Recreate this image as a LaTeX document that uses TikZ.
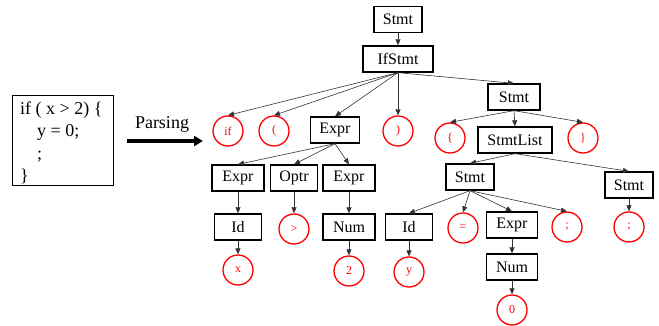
\documentclass[tikz,border=0pt]{standalone}
\usepackage{fontspec}
\setmainfont{Liberation Serif}
\usetikzlibrary{arrows.meta}

\tikzset{
  treebox/.style={draw, line width=1.3pt, minimum width=47pt, minimum height=26pt,
    inner xsep=9pt, inner ysep=0pt, font=\fontsize{16}{18}\selectfont},
  leaf/.style={draw=red, circle, line width=1.3pt, minimum size=30pt, inner sep=0pt,
    text=red, font=\fontsize{12}{14}\selectfont},
  edge/.style={draw=black!80, line width=0.6pt, -{Triangle[length=6pt,width=5pt]}},
  codeline/.style={anchor=base west, inner sep=0pt, font=\fontsize{18}{22}\selectfont},
}

\begin{document}
\begin{tikzpicture}[x=1pt,y=-1pt]
\useasboundingbox (0,0) rectangle (659,326);

% source fragment
\node[draw, line width=0.9pt, minimum width=101pt, minimum height=90pt, inner sep=0pt] (code) at (62.8,140) {};
\node[codeline] (l1) at (20,115) {if ( x > 2) \{};
\node[codeline] (l2) at (37,137) {y = 0;};
\node[codeline] (l3) at (37,160) {;};
\node[codeline] (l4) at (20,182) {\}};

% parsing arrow
\coordinate (pa) at (127,141);
\coordinate (pb) at (203,141);
\draw[line width=3.2pt, -{Triangle[length=9pt,width=10pt]}] (pa) -- (pb);
\node[font=\fontsize{18}{22}\selectfont, inner sep=0pt] (parse) at (162,124) {Parsing};

% parse tree nodes
\node[treebox] (stmt0) at (398,19.5) {Stmt};
\node[treebox, minimum width=70pt] (ifstmt) at (398,59) {IfStmt};
\node[leaf] (tif) at (228,131) {if};
\node[leaf] (tlp) at (274,131) {(};
\node[treebox, minimum width=49pt] (expr0) at (335,130) {Expr};
\node[leaf] (trp) at (398,131) {)};
\node[treebox, minimum width=52pt] (stmt1) at (514,97) {Stmt};
\node[leaf] (tlb) at (450,138) {\{};
\node[treebox, minimum width=74pt] (stmtlist) at (515,140) {StmtList};
\node[leaf] (trb) at (583,138) {\}};
\node[treebox] (stmt2) at (470,177) {Stmt};
\node[treebox] (stmt3) at (629,185) {Stmt};
\node[treebox, minimum width=52pt] (expr1) at (238,178) {Expr};
\node[treebox, minimum width=46pt] (optr) at (294,178) {Optr};
\node[treebox, minimum width=52pt] (expr2) at (349,178) {Expr};
\node[treebox] (id1) at (238,227) {Id};
\node[leaf] (tgt) at (294,229) {>};
\node[treebox, minimum width=52pt] (num1) at (349,227) {Num};
\node[leaf] (tx) at (238,270) {x};
\node[leaf] (t2) at (349,271) {2};
\node[treebox] (id2) at (409,227) {Id};
\node[leaf] (teq) at (463,228) {=};
\node[treebox, minimum width=51pt] (expr3) at (512,225) {Expr};
\node[leaf] (tsc1) at (567,227) {;};
\node[leaf] (tsc2) at (629,227) {;};
\node[leaf] (ty) at (409,272) {y};
\node[treebox, minimum width=51pt] (num2) at (512,267) {Num};
\node[leaf] (t0) at (512,310) {0};

% tree edges
\foreach \p/\c in {stmt0/ifstmt, ifstmt/tif, ifstmt/tlp, ifstmt/expr0, ifstmt/trp, ifstmt/stmt1,
  expr0/expr1, expr0/optr, expr0/expr2, expr1/id1, id1/tx, optr/tgt, expr2/num1, num1/t2,
  stmt1/tlb, stmt1/stmtlist, stmt1/trb, stmtlist/stmt2, stmtlist/stmt3,
  stmt2/id2, stmt2/teq, stmt2/expr3, stmt2/tsc1, id2/ty, expr3/num2, num2/t0, stmt3/tsc2}
  \draw[edge] (\p.south) -- (\c.north);

\end{tikzpicture}
\end{document}
